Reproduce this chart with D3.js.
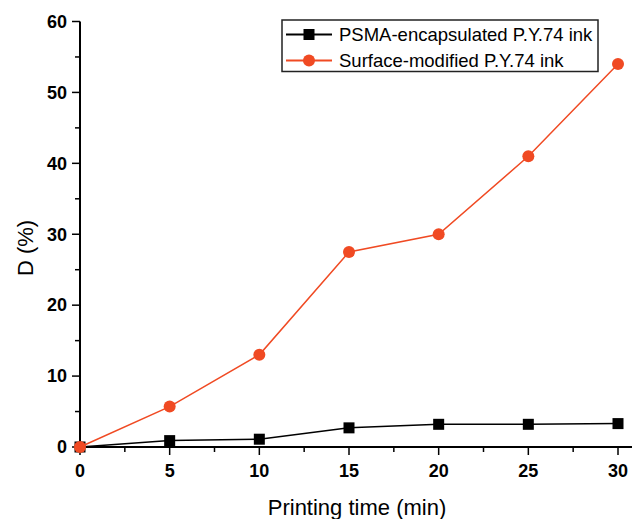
<!DOCTYPE html>
<html>
<head>
<meta charset="utf-8">
<script src="https://cdn.jsdelivr.net/npm/d3@7"></script>
<style>
  body { margin: 0; background: #fff; }
  svg { display: block; font-family: Arial, "Liberation Sans", sans-serif; }
</style>
</head>
<body>
<svg id="svg" width="633" height="519"></svg>
<script>
var svg = d3.select("#svg"),
    width = 633,
    height = 519;

// data
var times = [0, 5, 10, 15, 20, 25, 30];
var psmaValues = [0, 0.9, 1.1, 2.7, 3.2, 3.2, 3.3];
var surfaceValues = [0, 5.7, 13.0, 27.5, 30.0, 41.0, 54.0];
var seriesNames = ["PSMA-encapsulated P.Y.74 ink", "Surface-modified P.Y.74 ink"];
var xTicks = [0, 5, 10, 15, 20, 25, 30];
var yTicks = [0, 10, 20, 30, 40, 50, 60];

var red = "#f04a23";

var x = d3.scaleLinear().domain([0, 30]).range([80, 618]);
var y = d3.scaleLinear().domain([0, 60]).range([447, 21.5]);

// axes
var xAxis = svg.append("g").attr("transform", "translate(0," + y(0) + ")");
xAxis.append("line")
    .attr("x1", x(0)).attr("x2", 632)
    .attr("stroke", "#000").attr("stroke-width", 2);
xAxis.selectAll(".minor")
    .data(d3.range(2.5, 30, 5))
    .enter().append("line")
    .attr("x1", d => x(d)).attr("x2", d => x(d))
    .attr("y1", 0).attr("y2", 5)
    .attr("stroke", "#000").attr("stroke-width", 1.5);
var xt = xAxis.selectAll(".major")
    .data(xTicks)
    .enter().append("g")
    .attr("transform", d => "translate(" + x(d) + ",0)");
xt.append("line").attr("y1", 0).attr("y2", 8)
    .attr("stroke", "#000").attr("stroke-width", 1.5);
xt.append("text")
    .attr("y", 30)
    .attr("text-anchor", "middle")
    .style("font-size", "18px")
    .style("font-weight", "bold")
    .text(d => d);

var yAxis = svg.append("g").attr("transform", "translate(" + x(0) + ",0)");
yAxis.append("line")
    .attr("y1", y(0)).attr("y2", y(60))
    .attr("stroke", "#000").attr("stroke-width", 2);
yAxis.selectAll(".minor")
    .data(d3.range(5, 60, 10))
    .enter().append("line")
    .attr("y1", d => y(d)).attr("y2", d => y(d))
    .attr("x1", 0).attr("x2", -5)
    .attr("stroke", "#000").attr("stroke-width", 1.5);
var yt = yAxis.selectAll(".major")
    .data(yTicks)
    .enter().append("g")
    .attr("transform", d => "translate(0," + y(d) + ")");
yt.append("line").attr("x1", 0).attr("x2", -8)
    .attr("stroke", "#000").attr("stroke-width", 1.5);
yt.append("text")
    .attr("x", -13)
    .attr("dy", "0.35em")
    .attr("text-anchor", "end")
    .style("font-size", "18px")
    .style("font-weight", "bold")
    .text(d => d);

// axis titles
svg.append("text")
    .attr("x", 357).attr("y", 515)
    .attr("text-anchor", "middle")
    .style("font-size", "22px")
    .text("Printing time (min)");
svg.append("text")
    .attr("transform", "translate(33,248) rotate(-90)")
    .attr("text-anchor", "middle")
    .style("font-size", "22px")
    .text("D (%)");

var line = d3.line()
    .x(d => x(d[0]))
    .y(d => y(d[1]));

var psma = times.map((t, i) => [t, psmaValues[i]]);
var surface = times.map((t, i) => [t, surfaceValues[i]]);

// black series
svg.append("path")
    .datum(psma)
    .attr("d", line)
    .attr("fill", "none")
    .attr("stroke", "#000")
    .attr("stroke-width", 1.5);
svg.selectAll(".sq")
    .data(psma)
    .enter().append("rect")
    .attr("x", d => x(d[0]) - 5.5)
    .attr("y", d => y(d[1]) - 5.5)
    .attr("width", 11).attr("height", 11)
    .attr("fill", "#000");

// red series
svg.append("path")
    .datum(surface)
    .attr("d", line)
    .attr("fill", "none")
    .attr("stroke", red)
    .attr("stroke-width", 1.5);
svg.selectAll(".dot")
    .data(surface)
    .enter().append("circle")
    .attr("cx", d => x(d[0]))
    .attr("cy", d => y(d[1]))
    .attr("r", 6)
    .attr("fill", red);

// legend
var legend = svg.append("g");
legend.append("rect")
    .attr("x", 282).attr("y", 20)
    .attr("width", 316).attr("height", 51.5)
    .attr("fill", "#fff")
    .attr("stroke", "#222")
    .attr("stroke-width", 1.5);
var items = legend.selectAll(".item")
    .data(seriesNames)
    .enter().append("g")
    .attr("transform", (d, i) => "translate(0," + (34.5 + i * 26) + ")");
items.append("line")
    .attr("x1", 286).attr("x2", 332)
    .attr("stroke", (d, i) => i === 0 ? "#000" : red)
    .attr("stroke-width", 2);
items.each(function(d, i) {
    var g = d3.select(this);
    if (i === 0) {
        g.append("rect").attr("x", 303.5).attr("y", -5.5)
            .attr("width", 11).attr("height", 11).attr("fill", "#000");
    } else {
        g.append("circle").attr("cx", 309).attr("cy", 0)
            .attr("r", 6).attr("fill", red);
    }
});
items.append("text")
    .attr("x", 339)
    .attr("dy", "0.35em")
    .style("font-size", "18.5px")
    .text(d => d);
</script>
</body>
</html>
